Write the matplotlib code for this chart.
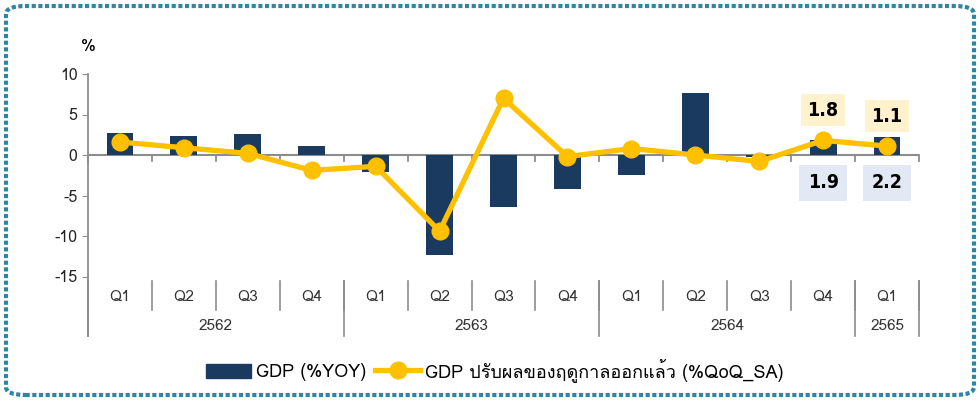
import matplotlib
matplotlib.use("Agg")
import matplotlib.pyplot as plt
from matplotlib import font_manager
from matplotlib.ft2font import FT2Font
from matplotlib.patches import FancyBboxPatch, Patch
from matplotlib.lines import Line2D
import numpy as np

quarters = ["Q1", "Q2", "Q3", "Q4", "Q1", "Q2", "Q3", "Q4", "Q1", "Q2", "Q3", "Q4", "Q1"]
years = ["2562", "2563", "2564", "2565"]
year_span = [4, 4, 4, 1]
gdp_yoy = [2.7, 2.3, 2.6, 1.1, -2.1, -12.4, -6.4, -4.2, -2.5, 7.7, -0.2, 1.9, 2.2]
gdp_qoq = [1.6, 0.9, 0.2, -1.9, -1.4, -9.4, 7.0, -0.2, 0.8, 0.0, -0.8, 1.8, 1.1]
legend_bar = "GDP (%YOY)"
legend_line = "GDP ปรับผลของฤดูกาลออกแล้ว (%QoQ_SA)"

# find a family that has Thai glyphs
thai_family = None
for f in font_manager.fontManager.ttflist:
    try:
        if 0x0E1B in FT2Font(f.fname).get_charmap():
            thai_family = f.name
            break
    except Exception:
        pass
fams = ["DejaVu Sans"] if thai_family is None else [thai_family, "DejaVu Sans"]
plt.rcParams["font.family"] = fams
plt.rcParams["axes.unicode_minus"] = False

navy = "#1B3A5F"
gold = "#FFC000"
grey = "#8C8C8C"

fig = plt.figure(figsize=(9.8, 4.01), dpi=100)
ax = fig.add_axes([88 / 980, 1 - 276.5 / 401, (919 - 88) / 980, (276.5 - 74) / 401])

x = np.arange(len(quarters))
ax.bar(x, gdp_yoy, width=0.42, color=navy, zorder=2)
ax.plot(x, gdp_qoq, color=gold, lw=3.8, marker="o", ms=12, zorder=3)

ax.set_xlim(-0.5, len(quarters) - 0.5)
ax.set_ylim(-15, 10)
ax.set_yticks([10, 5, 0, -5, -10, -15])
ax.tick_params(axis="y", direction="out", length=4, color=grey, labelsize=11.5, labelcolor="#222222")
ax.set_xticks([])
for s in ["top", "right", "bottom"]:
    ax.spines[s].set_visible(False)
ax.spines["left"].set_color(grey)
ax.spines["left"].set_linewidth(1.3)

# zero line with boundary ticks
ax.axhline(0, color=grey, lw=1.5, zorder=1)
for b in np.arange(len(quarters) + 1) - 0.5:
    ax.plot([b, b], [0, -0.7], color=grey, lw=1.3, zorder=1, clip_on=False)

# category labels below the plot
tr = ax.get_xaxis_transform()
def ay(py):
    return (276.5 - py) / (276.5 - 74)
for i, q in enumerate(quarters):
    ax.text(i, ay(297), q, transform=tr, ha="center", va="center", fontsize=11, color="#333333")
for b in np.arange(len(quarters) + 1) - 0.5:
    ax.plot([b, b], [ay(281), ay(310)], transform=tr, color=grey, lw=1.2, clip_on=False)
start = 0
bounds = [-0.5]
for y, n in zip(years, year_span):
    ax.text(start + n / 2 - 0.5, ay(326), y, transform=tr, ha="center", va="center", fontsize=11, color="#333333")
    start += n
    bounds.append(start - 0.5)
for b in bounds:
    ax.plot([b, b], [ay(281), ay(336)], transform=tr, color=grey, lw=1.2, clip_on=False)
ax.plot([-0.5, -0.5], [0, ay(336)], transform=tr, color=grey, lw=1.3, clip_on=False)

ax.text(0, ay(47), "%", transform=ax.transAxes, ha="center", va="center", fontsize=12)

# data labels for the last two quarters
lab_font = dict(fontsize=14, fontweight="bold", family="DejaVu Sans", fontstretch="condensed",
                ha="center", va="center")
for i, py in [(11, 110), (12, 116)]:
    ax.text(i, ay(py), f"{gdp_qoq[i]:.1f}", transform=tr,
            bbox=dict(boxstyle="square,pad=0.35", fc="#FFF2CC", ec="none"), **lab_font)
for i in [11, 12]:
    ax.text(i, ay(183), f"{gdp_yoy[i]:.1f}", transform=tr,
            bbox=dict(boxstyle="square,pad=0.45", fc="#E3E9F4", ec="none"), **lab_font)

handles = [Patch(color=navy), Line2D([], [], color=gold, lw=3.8, marker="o", ms=12)]
fig.legend(handles, [legend_bar, legend_line], loc="center", bbox_to_anchor=(0.505, 1 - 370 / 401),
           ncol=2, frameon=False, fontsize=13, handlelength=2.5, handleheight=0.8,
           columnspacing=0.5, handletextpad=0.25)

# dotted rounded border
border = FancyBboxPatch((6 / 980, 6 / 401), 968 / 980, 389 / 401, transform=fig.transFigure,
                        boxstyle="round,pad=0,rounding_size=0.02", fill=False, ec="#2E86A0",
                        lw=3, ls=(0, (1, 0.6)))
fig.patches.append(border)

fig.savefig("out.png", dpi=100)
